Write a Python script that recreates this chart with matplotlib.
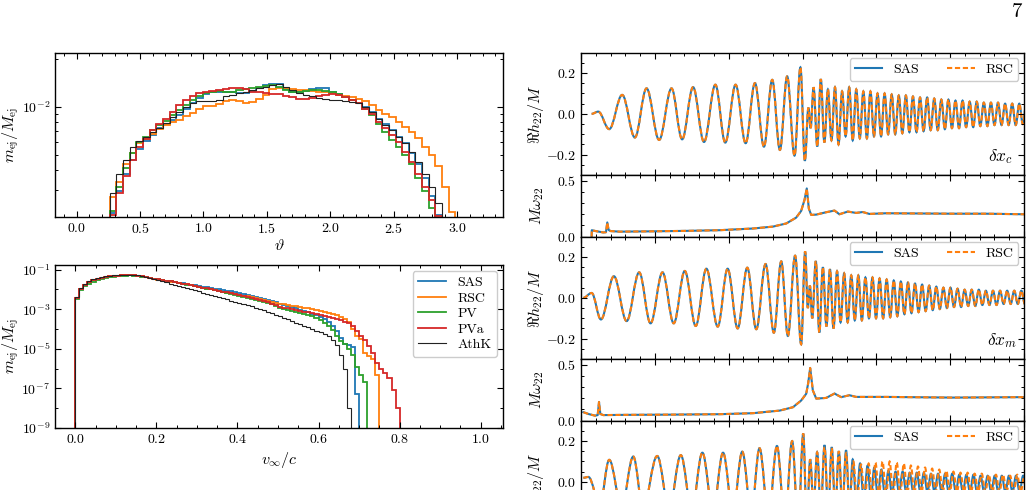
import numpy as np
import matplotlib
matplotlib.use('Agg')
import matplotlib.pyplot as plt
from matplotlib.path import Path
from matplotlib.patches import PathPatch
from matplotlib.lines import Line2D
from matplotlib.ticker import MultipleLocator, FixedLocator, NullFormatter, FuncFormatter

# ---------------- data: angular ejecta distribution (units of 1e-3) ----------------
theta_nbins = 60
theta_start = {'SAS': 5, 'RSC': 5, 'PV': 5, 'PVa': 5, 'AthK': 4}
theta_SAS = [2.15, 2.96, 3.82, 4.61, 5.45, 6.14, 6.62, 7.34, 7.83, 8.27, 8.84, 9.74, 10.53, 11.27, 11.95,
             12.29, 12.43, 12.43, 12.29, 12.15, 12.15, 12.63, 13.19, 13.75, 13.97, 13.82, 12.84, 12.43, 12.43,
             12.63, 12.84, 13.12, 13.05, 12.43, 12.02, 11.47, 11.0, 10.59, 10.0, 9.29, 8.39, 7.83, 7.16, 6.50,
             5.91, 5.12, 4.35, 3.56, 2.76, 2.10]
theta_RSC = [2.71, 3.40, 4.35, 5.12, 5.91, 6.32, 6.79, 7.22, 7.64, 8.02, 8.27, 8.71, 9.09, 9.74, 10.07,
             10.13, 10.39, 10.80, 11.0, 10.80, 10.53, 10.66, 11.13, 11.88, 12.84, 13.12, 13.05, 12.84, 12.70,
             12.70, 12.63, 12.43, 12.29, 12.15, 11.81, 11.60, 11.47, 11.13, 10.80, 10.26, 9.54, 9.03, 8.58,
             8.02, 7.52, 6.98, 6.38, 5.62, 5.00, 4.24, 3.15, 2.19]
theta_PV = [2.24, 3.15, 4.13, 5.12, 6.03, 6.50, 7.16, 7.64, 8.20, 8.84, 9.54, 10.26, 11.0, 11.67, 12.15,
            12.43, 12.56, 12.43, 12.43, 12.70, 12.91, 13.12, 13.33, 13.40, 13.61, 13.33, 12.70, 12.29, 12.43,
            12.63, 12.70, 12.70, 12.63, 12.29, 12.02, 11.47, 11.0, 10.53, 9.74, 8.84, 7.83, 6.98, 6.21, 5.62,
            5.00, 4.35, 3.56, 2.96, 2.33]
theta_PVa = [2.10, 2.88, 3.71, 4.61, 5.62, 6.32, 7.16, 7.83, 8.39, 9.29, 10.26, 11.0, 11.67, 12.15, 12.43,
             12.63, 12.70, 12.91, 13.05, 13.12, 12.84, 12.43, 12.29, 12.15, 12.02, 11.95, 11.74, 11.47, 11.20,
             11.13, 11.27, 11.60, 11.81, 12.02, 11.81, 11.47, 11.0, 10.53, 9.74, 8.96, 8.02, 7.34, 6.62, 6.03,
             5.23, 4.51, 3.82, 3.15, 2.61, 2.06]
theta_AthK = [2.01, 2.88, 3.82, 4.61, 5.62, 6.14, 6.50, 6.98, 7.40, 7.89, 8.64, 9.29, 10.0, 10.53, 10.80,
              10.93, 10.80, 11.0, 11.60, 11.81, 12.15, 12.43, 12.70, 13.05, 13.33, 13.61, 13.97, 13.33, 12.70,
              12.15, 11.81, 11.60, 11.27, 11.13, 11.0, 11.0, 10.93, 10.73, 10.53, 10.0, 9.29, 8.39, 7.64, 7.16,
              6.50, 5.91, 5.23, 4.51, 3.82, 3.15, 2.48, 2.01]

# ---------------- data: velocity distribution, log10(m_ej/M_ej), bins of 0.01 ----------------
vel_nbins = 100
logv_SAS = [-2.45, -1.98, -1.78, -1.65, -1.55, -1.48, -1.42, -1.38, -1.35, -1.33,
            -1.31, -1.30, -1.29, -1.29, -1.30, -1.32, -1.35, -1.38, -1.42, -1.46,
            -1.50, -1.53, -1.56, -1.60, -1.63, -1.66, -1.69, -1.72, -1.76, -1.80,
            -1.84, -1.87, -1.90, -1.93, -1.97, -2.00, -2.03, -2.07, -2.10, -2.14,
            -2.18, -2.22, -2.27, -2.32, -2.37, -2.42, -2.48, -2.54, -2.60, -2.66,
            -2.72, -2.78, -2.84, -2.90, -2.96, -3.02, -3.08, -3.15, -3.22, -3.30,
            -3.40, -3.52, -3.65, -3.83, -4.10, -4.45, -4.75, -4.80, -4.90, -7.30]
logv_RSC = [-2.45, -1.98, -1.78, -1.65, -1.55, -1.48, -1.42, -1.38, -1.35, -1.33,
            -1.31, -1.30, -1.29, -1.29, -1.30, -1.32, -1.35, -1.38, -1.42, -1.46,
            -1.52, -1.55, -1.58, -1.61, -1.64, -1.67, -1.71, -1.75, -1.79, -1.83,
            -1.88, -1.92, -1.96, -2.00, -2.04, -2.08, -2.12, -2.16, -2.20, -2.24,
            -2.28, -2.32, -2.36, -2.40, -2.44, -2.48, -2.53, -2.58, -2.63, -2.68,
            -2.72, -2.75, -2.78, -2.82, -2.85, -2.88, -2.92, -2.96, -3.00, -3.05,
            -3.10, -3.15, -3.20, -3.25, -3.30, -3.38, -3.50, -3.65, -4.00, -4.35,
            -4.50, -5.20, -5.35, -5.50, -6.30]
logv_PV = [-2.50, -2.05, -1.85, -1.72, -1.62, -1.54, -1.48, -1.43, -1.39, -1.36,
           -1.34, -1.32, -1.31, -1.30, -1.31, -1.33, -1.36, -1.39, -1.43, -1.47,
           -1.50, -1.53, -1.57, -1.60, -1.64, -1.68, -1.72, -1.76, -1.80, -1.84,
           -1.88, -1.92, -1.96, -2.00, -2.04, -2.08, -2.13, -2.18, -2.23, -2.28,
           -2.33, -2.38, -2.43, -2.48, -2.53, -2.58, -2.64, -2.70, -2.76, -2.84,
           -2.92, -2.98, -3.03, -3.08, -3.13, -3.18, -3.24, -3.30, -3.37, -3.45,
           -3.55, -3.70, -3.85, -4.05, -4.35, -4.60, -4.75, -5.00, -5.30, -5.90,
           -6.30, -6.70]
logv_PVa = [-2.45, -1.98, -1.78, -1.65, -1.55, -1.48, -1.42, -1.38, -1.35, -1.33,
            -1.31, -1.30, -1.29, -1.29, -1.30, -1.32, -1.35, -1.38, -1.42, -1.46,
            -1.50, -1.53, -1.57, -1.60, -1.64, -1.67, -1.71, -1.75, -1.79, -1.83,
            -1.87, -1.91, -1.95, -1.99, -2.03, -2.07, -2.11, -2.15, -2.20, -2.25,
            -2.30, -2.35, -2.40, -2.45, -2.50, -2.55, -2.60, -2.65, -2.72, -2.80,
            -2.87, -2.92, -2.96, -3.00, -3.04, -3.08, -3.12, -3.16, -3.21, -3.26,
            -3.30, -3.35, -3.40, -3.45, -3.50, -3.56, -3.63, -3.72, -3.85, -4.10,
            -4.35, -4.55, -4.85, -5.20, -5.70, -6.00, -6.20, -6.50, -7.10, -8.00]
logv_AthK = [-2.40, -1.95, -1.75, -1.60, -1.50, -1.43, -1.38, -1.34, -1.31, -1.29,
             -1.28, -1.27, -1.27, -1.27, -1.27, -1.29, -1.33, -1.37, -1.42, -1.48,
             -1.55, -1.60, -1.65, -1.71, -1.76, -1.82, -1.87, -1.93, -1.98, -2.04,
             -2.10, -2.16, -2.22, -2.28, -2.33, -2.39, -2.45, -2.51, -2.57, -2.62,
             -2.68, -2.74, -2.80, -2.86, -2.92, -2.98, -3.05, -3.12, -3.20, -3.28,
             -3.36, -3.44, -3.52, -3.60, -3.68, -3.76, -3.84, -3.92, -4.00, -4.08,
             -4.16, -4.26, -4.38, -4.55, -4.80, -5.30, -6.00, -8.00]

# ---------------- data: waveforms (extrema of Re h22/M, time in ms rel. merger) ----------------
# panel delta x_c (SAS and RSC overlap)
t_c_insp = [-14.28, -13.83, -13.09, -12.21, -11.35, -10.56, -9.71, -8.87, -8.15, -7.41, -6.67, -5.90,
            -5.23, -4.53, -3.85, -3.22, -2.61, -2.05, -1.53, -1.04, -0.54, -0.14, 0.16]
h_c_insp = [0.0, 0.011, -0.075, 0.093, -0.116, 0.125, -0.128, 0.125, -0.125, 0.131, -0.138, 0.143,
            -0.141, 0.143, -0.144, 0.151, -0.161, 0.167, -0.177, 0.184, -0.205, 0.228, -0.23]
t_c_post = [0.40, 0.55, 0.75, 1.00, 1.24, 1.48, 1.72, 1.96, 2.20, 2.44, 2.68, 2.92, 3.16, 3.40, 3.64,
            3.88, 4.12, 4.36, 4.60, 4.84, 5.08, 5.32, 5.56, 5.80, 6.04, 6.28, 6.52, 6.76, 7.00, 7.24,
            7.48, 7.72, 7.96, 8.20, 8.44, 8.68, 8.92, 9.16, 9.40, 9.64, 9.88, 10.12, 10.36, 10.60, 10.84,
            11.08, 11.32, 11.56, 11.80, 12.04, 12.28, 12.52, 12.76, 13.00, 13.24, 13.48, 13.72, 13.96,
            14.20, 14.44, 14.68, 14.92, 15.16]
h_c_post = [0.03, -0.07, 0.13, -0.16, 0.17, -0.14, 0.12, -0.13, 0.13, -0.15, 0.11, -0.11, 0.13, -0.13,
            0.12, -0.12, 0.11, -0.12, 0.11, -0.11, 0.10, -0.11, 0.10, -0.10, 0.095, -0.10, 0.09, -0.095,
            0.09, -0.09, 0.085, -0.09, 0.08, -0.085, 0.08, -0.08, 0.075, -0.08, 0.07, -0.075, 0.07, -0.07,
            0.065, -0.07, 0.065, -0.065, 0.06, -0.065, 0.06, -0.06, 0.055, -0.06, 0.055, -0.055, 0.055,
            -0.055, 0.05, -0.055, 0.05, -0.055, 0.05, -0.05, 0.05]
# panel delta x_m
t_m_insp = [-14.84, -14.28, -13.65, -12.77, -11.91, -11.06, -10.29, -9.48, -8.72, -7.97, -7.23, -6.51,
            -5.74, -5.07, -4.39, -3.74, -3.13, -2.50, -1.94, -1.44, -0.99, -0.50, -0.09, 0.18]
h_m_insp = [0.0, 0.024, -0.106, 0.106, -0.114, 0.125, -0.125, 0.125, -0.125, 0.132, -0.138, 0.143,
            -0.141, 0.143, -0.15, 0.148, -0.154, 0.166, -0.171, 0.179, -0.187, 0.207, -0.228, 0.228]
t_m_post = [0.36, 0.50, 0.66, 0.90, 1.14, 1.38, 1.62, 1.86, 2.10, 2.34, 2.58, 2.82, 3.06, 3.30, 3.54,
            3.78, 4.02, 4.26, 4.50, 4.74, 4.98, 5.22, 5.46, 5.70, 5.94, 6.18, 6.42, 6.66, 6.90, 7.14,
            7.38, 7.62, 7.86, 8.10, 8.34, 8.58, 8.82, 9.06, 9.30, 9.54, 9.78, 10.02, 10.26, 10.50, 10.74,
            10.98, 11.22, 11.46, 11.70, 11.94, 12.18, 12.42, 12.66, 12.90, 13.14, 13.38, 13.62, 13.86,
            14.10, 14.34, 14.58, 14.82, 15.06]
h_m_post = [-0.05, 0.06, -0.10, 0.18, -0.17, 0.15, -0.14, 0.14, -0.15, 0.13, -0.12, 0.12, -0.12, 0.11,
            -0.11, 0.11, -0.11, 0.10, -0.10, 0.10, -0.10, 0.095, -0.10, 0.09, -0.095, 0.085, -0.09, 0.08,
            -0.08, 0.075, -0.075, 0.07, -0.07, 0.065, -0.065, 0.06, -0.06, 0.055, -0.055, 0.05, -0.05,
            0.05, -0.045, 0.045, -0.045, 0.04, -0.04, 0.04, -0.04, 0.04, -0.035, 0.035, -0.035, 0.035,
            -0.035, 0.035, -0.03, 0.035, -0.03, 0.035, -0.03, 0.035, -0.03]
# third panel (only top part visible)
t_f_insp = [-14.84, -14.5, -13.72, -13.09, -12.25, -11.46, -10.8, -9.84, -9.03, -8.24, -7.5, -6.78,
            -6.06, -5.38, -4.71, -4.08, -3.47, -2.91, -2.3, -1.73, -1.19, -0.7, -0.29, 0.05, 0.29]
h_f_insp = [0.02, 0.024, -0.11, 0.108, -0.12, 0.124, -0.125, 0.127, -0.13, 0.131, -0.135, 0.143,
            -0.14, 0.143, -0.145, 0.148, -0.15, 0.165, -0.17, 0.176, -0.19, 0.2, -0.22, 0.237, -0.2]
t_f_post_SAS = [0.52, 0.75, 0.99, 1.24, 1.49, 1.74, 1.98, 2.22, 2.46, 2.70, 2.95, 3.18, 3.40, 3.65,
                3.90, 4.15, 4.41, 4.63, 4.86, 5.10, 5.34, 5.58, 5.82, 6.06, 6.30, 6.54, 6.78, 7.02, 7.26,
                7.50, 7.74, 7.98, 8.22, 8.46, 8.70, 8.94, 9.18, 9.42, 9.66, 9.90, 10.14, 10.38, 10.62,
                10.86, 11.10, 11.34, 11.58, 11.82, 12.06, 12.30, 12.54, 12.78, 13.02, 13.26, 13.50, 13.74,
                13.98, 14.22, 14.46, 14.70, 14.94, 15.18]
h_f_post_SAS = [0.11, -0.12, 0.145, -0.14, 0.18, -0.15, 0.17, -0.14, 0.15, -0.13, 0.155, -0.12, 0.11,
                -0.11, 0.09, -0.09, 0.08, -0.08, 0.07, -0.07, 0.06, -0.065, 0.055, -0.06, 0.05, -0.055,
                0.05, -0.05, 0.045, -0.05, 0.045, -0.05, 0.045, -0.05, 0.04, -0.05, 0.04, -0.05, 0.04,
                -0.05, 0.04, -0.05, 0.035, -0.05, 0.035, -0.05, 0.035, -0.05, 0.03, -0.05, 0.03, -0.05,
                0.03, -0.05, 0.03, -0.05, 0.03, -0.05, 0.03, -0.05, 0.03, -0.05]
t_f_post_RSC = [0.52, 0.75, 0.99, 1.24, 1.49, 1.74, 1.98, 2.22, 2.46, 2.70, 2.95, 3.18, 3.44, 3.70,
                3.96, 4.22, 4.48, 4.71, 4.94, 5.18, 5.42, 5.66, 5.90, 6.14, 6.38, 6.62, 6.86, 7.10, 7.34,
                7.58, 7.82, 8.06, 8.30, 8.54, 8.78, 9.02, 9.26, 9.50, 9.74, 9.98, 10.22, 10.46, 10.70,
                10.94, 11.18, 11.42, 11.66, 11.90, 12.14, 12.38, 12.62, 12.86, 13.10, 13.34, 13.58, 13.82,
                14.06, 14.30, 14.54, 14.78, 15.02, 15.26]
h_f_post_RSC = [0.11, -0.12, 0.145, -0.14, 0.17, -0.15, 0.165, -0.14, 0.15, -0.13, 0.14, -0.12, 0.10,
                -0.09, 0.085, -0.08, 0.09, -0.075, 0.095, -0.07, 0.10, -0.07, 0.10, -0.065, 0.095, -0.06,
                0.09, -0.06, 0.08, -0.055, 0.075, -0.055, 0.07, -0.05, 0.065, -0.05, 0.06, -0.05, 0.055,
                -0.05, 0.05, -0.05, 0.045, -0.05, 0.045, -0.05, 0.04, -0.05, 0.04, -0.05, 0.035, -0.05,
                0.035, -0.05, 0.035, -0.05, 0.03, -0.05, 0.035, -0.05, 0.03, -0.05]

# ---------------- data: frequency M omega_22 ----------------
t_w_c = [-14.28, -14.27, -14.0, -13.5, -13.31, -13.22, -13.13, -12.99, -12.37, -10.11, -7.86, -5.61,
         -3.35, -2.0, -1.1, -0.43, -0.09, 0.14, 0.29, 0.43, 0.59, 0.93, 1.6, 2.17, 2.5, 3.07, 3.63, 4.08,
         4.53, 5.66, 7.91, 10.17, 12.42, 15.0]
w_c = [0.0, 0.058, 0.05, 0.038, 0.04, 0.127, 0.06, 0.05, 0.045, 0.048, 0.052, 0.058, 0.073, 0.09,
       0.118, 0.17, 0.23, 0.33, 0.43, 0.25, 0.194, 0.197, 0.218, 0.233, 0.2, 0.224, 0.212, 0.22, 0.203,
       0.209, 0.207, 0.205, 0.205, 0.2]
t_w_m = [-14.84, -14.5, -14.05, -13.87, -13.78, -13.69, -13.49, -12.0, -9.0, -5.61, -3.35, -1.55,
         -0.65, -0.09, 0.25, 0.38, 0.52, 0.7, 0.93, 1.6, 2.17, 2.62, 3.18, 3.63, 5.66, 10.17, 15.0]
w_m = [0.076, 0.06, 0.045, 0.05, 0.167, 0.06, 0.05, 0.052, 0.054, 0.058, 0.067, 0.09, 0.12, 0.18,
       0.24, 0.33, 0.47, 0.27, 0.197, 0.203, 0.242, 0.21, 0.227, 0.212, 0.212, 0.206, 0.21]

names = ['SAS', 'RSC', 'PV', 'PVa', 'AthK']
colors = {'SAS': '#1f77b4', 'RSC': '#ff7f0e', 'PV': '#2ca02c', 'PVa': '#d62728', 'AthK': '#222222'}
widths = {'SAS': 1.3, 'RSC': 1.3, 'PV': 1.3, 'PVa': 1.3, 'AthK': 0.8}

# ---------------- style ----------------
plt.rcParams.update({
    'font.family': 'serif', 'font.serif': ['cmr10'], 'mathtext.fontset': 'cm',
    'axes.unicode_minus': False, 'axes.formatter.use_mathtext': True,
    'xtick.direction': 'in', 'ytick.direction': 'in', 'xtick.top': True, 'ytick.right': True,
    'xtick.major.size': 4.5, 'ytick.major.size': 4.5, 'xtick.minor.size': 2.3, 'ytick.minor.size': 2.3,
    'xtick.major.width': 0.8, 'ytick.major.width': 0.8, 'xtick.minor.width': 0.7, 'ytick.minor.width': 0.7,
    'xtick.labelsize': 10, 'ytick.labelsize': 10, 'axes.linewidth': 1.0, 'axes.labelsize': 11.5,
    'legend.fontsize': 10,
})

def mfmt(v, pos):
    if abs(v) < 1e-9:
        v = 0.0
    return f'${v:.1f}$'

W, H = 1033, 490
fig = plt.figure(figsize=(W / 100, H / 100), dpi=100)

def px_axes(x0, y_top, x1, y_bot):
    return fig.add_axes([x0 / W, 1 - y_bot / H, (x1 - x0) / W, (y_bot - y_top) / H])

# ---------------- top-left: theta histogram ----------------
ax1 = px_axes(55, 53.3, 503, 216.7)
theta_edges = np.linspace(0, np.pi, theta_nbins + 1)
theta_vals = {'SAS': theta_SAS, 'RSC': theta_RSC, 'PV': theta_PV, 'PVa': theta_PVa, 'AthK': theta_AthK}
for n in names:
    vals = np.array(theta_vals[n]) * 1e-3
    s = theta_start[n]
    ax1.stairs(vals, theta_edges[s:s + len(vals) + 1], baseline=1e-6, color=colors[n], lw=widths[n])
ax1.set_yscale('log')
ax1.set_xlim(-0.17, 3.36)
ax1.set_ylim(2.05e-3, 2.16e-2)
ax1.xaxis.set_major_locator(MultipleLocator(0.5))
ax1.xaxis.set_minor_locator(MultipleLocator(0.1))
ax1.xaxis.set_major_formatter(FuncFormatter(mfmt))
ax1.yaxis.set_major_locator(FixedLocator([1e-2]))
ax1.yaxis.set_minor_locator(FixedLocator([3e-3, 4e-3, 5e-3, 6e-3, 7e-3, 8e-3, 9e-3, 2e-2]))
ax1.yaxis.set_minor_formatter(NullFormatter())
ax1.set_xlabel(r'$\vartheta$', labelpad=2)
ax1.set_ylabel(r'$m_{\rm ej}/M_{\rm ej}$')
ax1.yaxis.set_label_coords(-0.076, 0.5)

# ---------------- bottom-left: velocity histogram ----------------
ax2 = px_axes(55, 264.5, 503, 428)
vel_edges = np.linspace(0, 1, vel_nbins + 1)
logv = {'SAS': logv_SAS, 'RSC': logv_RSC, 'PV': logv_PV, 'PVa': logv_PVa, 'AthK': logv_AthK}
for n in names:
    vals = 10.0 ** np.array(logv[n])
    ax2.stairs(vals, vel_edges[:len(vals) + 1], baseline=1e-12, color=colors[n], lw=widths[n])
ax2.set_yscale('log')
ax2.set_xlim(-0.05, 1.055)
ax2.set_ylim(1e-9, 0.18)
ax2.xaxis.set_major_locator(MultipleLocator(0.2))
ax2.xaxis.set_minor_locator(MultipleLocator(0.05))
ax2.xaxis.set_major_formatter(FuncFormatter(mfmt))
ax2.yaxis.set_major_locator(FixedLocator([1e-9, 1e-7, 1e-5, 1e-3, 1e-1]))
ax2.yaxis.set_minor_locator(FixedLocator([1e-8, 1e-6, 1e-4, 1e-2]))
ax2.yaxis.set_minor_formatter(NullFormatter())
ax2.set_xlabel(r'$v_\infty/c$', labelpad=3)
ax2.set_ylabel(r'$m_{\rm ej}/M_{\rm ej}$')
ax2.yaxis.set_label_coords(-0.076, 0.5)
handles = [Line2D([], [], color=colors[n], lw=widths[n]) for n in names]
ax2.legend(handles, names, loc='upper right', fontsize=10, labelspacing=0.2, handlelength=2.0,
           borderaxespad=0.45, edgecolor='0.8', framealpha=1.0)

# ---------------- right: waveforms ----------------
def wave_path(ts, hs, k=0.364):
    verts = [(ts[0], hs[0])]
    codes = [Path.MOVETO]
    for i in range(len(ts) - 1):
        d = ts[i + 1] - ts[i]
        verts += [(ts[i] + k * d, hs[i]), (ts[i + 1] - k * d, hs[i + 1]), (ts[i + 1], hs[i + 1])]
        codes += [Path.CURVE4] * 3
    return Path(verts, codes)

xr0, xr1 = 581, 1024
h_h, h_w = 122.3, 61.7
tops = [52.7]
for i in range(4):
    tops.append(tops[-1] + (h_h if i % 2 == 0 else h_w))

def style_time_axis(ax):
    ax.set_xlim(-15, 15)
    ax.xaxis.set_major_locator(MultipleLocator(5))
    ax.xaxis.set_minor_locator(MultipleLocator(1))
    ax.tick_params(axis='x', which='both', labelbottom=False)

def style_h(ax):
    style_time_axis(ax)
    ax.set_ylim(-0.3, 0.3)
    ax.yaxis.set_major_locator(MultipleLocator(0.2))
    ax.yaxis.set_minor_locator(MultipleLocator(0.05))
    ax.yaxis.set_major_formatter(FuncFormatter(mfmt))
    ax.set_ylabel(r'$\Re h_{22}/M$', fontsize=11.5)
    ax.yaxis.set_label_coords(-0.078, 0.5)
    lh = [Line2D([], [], color=colors['SAS'], lw=1.5),
          Line2D([], [], color=colors['RSC'], lw=1.5, ls=(0, (2.5, 1.3)))]
    ax.legend(lh, ['SAS', 'RSC'], ncol=2, loc='upper right', fontsize=10, edgecolor='0.8',
              borderaxespad=0.4, framealpha=1.0, borderpad=0.35)

def style_w(ax):
    style_time_axis(ax)
    ax.set_ylim(0, 0.55)
    ax.yaxis.set_major_locator(MultipleLocator(0.5))
    ax.yaxis.set_minor_locator(MultipleLocator(0.1))
    ax.yaxis.set_major_formatter(FuncFormatter(mfmt))
    ax.set_ylabel(r'$M\omega_{22}$', fontsize=11.5)
    ax.yaxis.set_label_coords(-0.078, 0.5)

def draw_wave(ax, t_s, h_s, t_r, h_r):
    ax.add_patch(PathPatch(wave_path(t_s, h_s), fill=False, edgecolor=colors['SAS'], lw=1.5))
    ax.add_patch(PathPatch(wave_path(t_r, h_r), fill=False, edgecolor=colors['RSC'], lw=1.5,
                           ls=(0, (2.5, 1.3))))

def draw_freq(ax, t, w):
    ax.plot(t, w, color=colors['SAS'], lw=1.5)
    ax.plot(t, w, color=colors['RSC'], lw=1.5, ls=(0, (2.5, 1.3)))

# panel 1: delta x_c
axh1 = px_axes(xr0, tops[0], xr1, tops[1])
tc = t_c_insp + t_c_post
hc = h_c_insp + h_c_post
draw_wave(axh1, tc, hc, tc, hc)
style_h(axh1)
axh1.text(0.975, 0.15, r'$\delta x_c$', transform=axh1.transAxes, ha='right', va='center', fontsize=12.5)

axw1 = px_axes(xr0, tops[1], xr1, tops[2])
draw_freq(axw1, t_w_c, w_c)
style_w(axw1)

# panel 2: delta x_m
axh2 = px_axes(xr0, tops[2], xr1, tops[3])
tm = t_m_insp + t_m_post
hm = h_m_insp + h_m_post
draw_wave(axh2, tm, hm, tm, hm)
style_h(axh2)
axh2.text(0.985, 0.15, r'$\delta x_m$', transform=axh2.transAxes, ha='right', va='center', fontsize=12.5)

axw2 = px_axes(xr0, tops[3], xr1, tops[4])
draw_freq(axw2, t_w_m, w_m)
style_w(axw2)

# panel 3 (cut by page edge, as in the reference)
axh3 = px_axes(xr0, tops[4], xr1, tops[4] + h_h)
draw_wave(axh3, t_f_insp + t_f_post_SAS, h_f_insp + h_f_post_SAS,
          t_f_insp + t_f_post_RSC, h_f_insp + h_f_post_RSC)
style_h(axh3)

fig.text(1017 / W, 1 - 12.5 / H, '7', ha='center', va='center', fontsize=15)

fig.savefig('out.png', dpi=100)
